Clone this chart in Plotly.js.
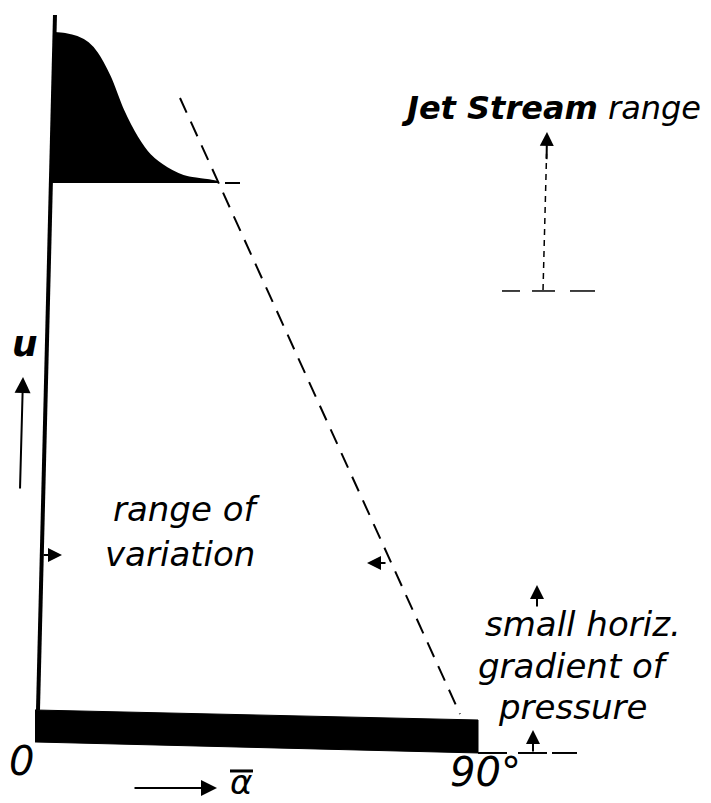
<!DOCTYPE html>
<html>
<head>
<meta charset="utf-8">
<script src="https://cdn.plot.ly/plotly-3.0.1.min.js"></script>
<style>html,body{margin:0;padding:0;background:#fff;}</style>
</head>
<body>
<div id="chart" style="width:711px;height:803px;"></div>
<script>
// ---- data (alpha in degrees, u in arbitrary units) ----
var axisAlpha = [3.21, -0.43];
var axisU = [102.95, 0.59];

// jet stream wind profile (upper edge) and its base level
var jetAlpha = [3.0, 5.36, 7.93, 10.29, 12.21, 15.0, 17.79, 20.79, 23.57, 27.21, 31.5, 35.79, 38.14];
var jetU = [100.3, 100.15, 99.71, 98.82, 97.35, 93.82, 88.96, 84.98, 82.33, 80.41, 79.08, 78.65, 78.35];
var jetBaseAlpha = [2.57, 38.14];
var jetBaseU = [78.35, 78.35];

var jetTailAlpha = [39.64, 42.86];
var jetTailU = [78.2, 78.2];

var limitAlpha = [30.0, 90.0];
var limitU = [90.72, 0.0];

var barAlpha = [-1.07, 93.86, 93.86, -1.07];
var barU = [0.59, -0.88, -5.74, -4.12];

var baseDashAlpha = [93.86, 100.07, null, 102.43, 108.64, null, 109.71, 115.07];
var baseDashU = [-5.74, -5.74, null, -5.74, -5.74, null, -5.74, -5.74];

var jetLevelAlpha = [99.0, 102.86, null, 105.43, 110.36, null, 113.57, 118.93];
var jetLevelU = [62.3, 62.3, null, 62.3, 62.3, null, 62.3, 62.3];

var jetShaftAlpha = [107.79, 108.55];
var jetShaftU = [62.45, 82.5];

var overlineAlpha = [40.71, 45.64];
var overlineU = [-8.39, -8.39];

// arrows: [tipAlpha, tipU, tailAlpha, tailU]
var arrowU = [-3.64, 49.63, -4.29, 32.99];
var arrowAlphaDir = [37.93, -10.9, 19.93, -10.9];
var arrowJet = [108.64, 85.72, 108.55, 81.5];
var arrowSmall = [106.5, 19.0, 106.5, 15.6];
var arrowBase = [105.64, -2.36, 105.64, -5.74];
var arrowRangeL = [4.71, 23.42, 0.43, 23.42];
var arrowRangeR = [70.07, 22.24, 74.36, 22.24];

// labels: [text, alpha, u, xanchor, size, yanchor]
var labels = [
  ['<b>Jet Stream</b> range', 77.14, 89.3, 'left', 32, 'middle'],
  ['<b>u</b>', -3.21, 54.6, 'center', 36, 'middle'],
  ['range of', 31.29, 30.2, 'center', 34, 'middle'],
  ['variation', 30.0, 23.6, 'center', 34, 'middle'],
  ['small horiz.', 116.36, 13.3, 'center', 34, 'middle'],
  ['gradient of', 114.43, 7.1, 'center', 34, 'middle'],
  ['pressure', 114.21, 1.0, 'center', 34, 'middle'],
  ['0', -3.86, -6.9, 'center', 40, 'middle'],
  ['90°', 95.57, -8.5, 'center', 40, 'middle'],
  ['α', 43.07, -13.05, 'center', 34, 'bottom']
];

// ---- traces ----
var black = '#000';
var traces = [
  {x: jetBaseAlpha, y: jetBaseU, mode: 'lines', line: {color: black, width: 2}, hoverinfo: 'skip'},
  {x: jetAlpha, y: jetU, mode: 'lines', fill: 'tonexty', fillcolor: black, line: {color: black, width: 2, shape: 'spline', smoothing: 0.8}, hoverinfo: 'skip'},
  {x: axisAlpha, y: axisU, mode: 'lines', line: {color: black, width: 4}, hoverinfo: 'skip'},
  {x: jetTailAlpha, y: jetTailU, mode: 'lines', line: {color: black, width: 2}, hoverinfo: 'skip'},
  {x: limitAlpha, y: limitU, mode: 'lines', line: {color: black, width: 2, dash: '16px,10px'}, hoverinfo: 'skip'},
  {x: barAlpha, y: barU, mode: 'lines', fill: 'toself', fillcolor: black, line: {color: black, width: 1}, hoverinfo: 'skip'},
  {x: baseDashAlpha, y: baseDashU, mode: 'lines', line: {color: black, width: 2}, connectgaps: false, hoverinfo: 'skip'},
  {x: jetLevelAlpha, y: jetLevelU, mode: 'lines', line: {color: black, width: 1.5}, connectgaps: false, hoverinfo: 'skip'},
  {x: jetShaftAlpha, y: jetShaftU, mode: 'lines', line: {color: black, width: 1.5, dash: '6px,5px'}, hoverinfo: 'skip'},
  {x: overlineAlpha, y: overlineU, mode: 'lines', line: {color: black, width: 3}, hoverinfo: 'skip'}
];

function arrow(a, head, size, width) {
  return {x: a[0], y: a[1], ax: a[2], ay: a[3], xref: 'x', yref: 'y', axref: 'x', ayref: 'y',
    text: '', showarrow: true, arrowhead: head, arrowsize: size, arrowwidth: width, arrowcolor: black, standoff: 0, startstandoff: 0};
}

var annotations = [
  arrow(arrowU, 2, 1.6, 2),
  arrow(arrowAlphaDir, 2, 1.6, 2),
  arrow(arrowJet, 2, 1.4, 2),
  arrow(arrowSmall, 2, 1.4, 2),
  arrow(arrowBase, 2, 1.4, 2),
  arrow(arrowRangeL, 2, 1.4, 2),
  arrow(arrowRangeR, 2, 1.4, 2)
];
labels.forEach(function (l) {
  annotations.push({x: l[1], y: l[2], xref: 'x', yref: 'y', text: l[0], showarrow: false,
    xanchor: l[3], yanchor: l[5], borderpad: 0,
    font: {family: 'DejaVu Sans', size: l[4], color: black, style: 'italic'}});
});

var layout = {
  width: 711, height: 803,
  margin: {l: 0, r: 0, t: 0, b: 0},
  paper_bgcolor: '#fff', plot_bgcolor: '#fff',
  showlegend: false,
  xaxis: {range: [-8.571, 143.786], visible: false, fixedrange: true},
  yaxis: {range: [-13.108, 105.155], visible: false, fixedrange: true},
  annotations: annotations
};

Plotly.newPlot('chart', traces, layout, {staticPlot: true, displayModeBar: false});
</script>
</body>
</html>
